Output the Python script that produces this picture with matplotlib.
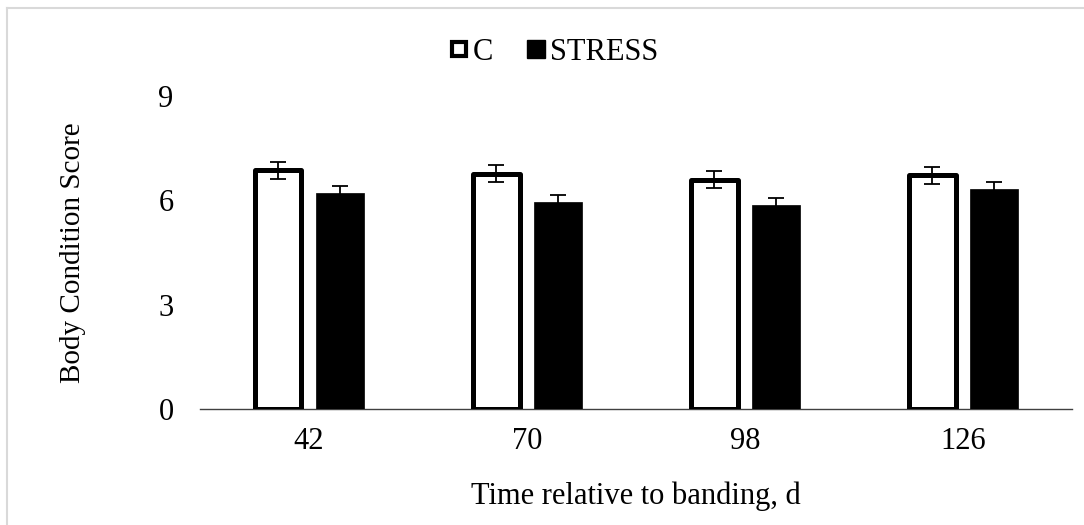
import numpy as np
import matplotlib.pyplot as plt
from matplotlib.lines import Line2D

plt.rcParams['font.family'] = ['Liberation Serif', 'DejaVu Serif']

# Body condition score by day relative to banding
days = ['42', '70', '98', '126']
c_mean = [6.86, 6.77, 6.60, 6.72]
c_err = [0.24, 0.24, 0.24, 0.24]
stress_mean = [6.21, 5.95, 5.88, 6.34]
stress_err = [0.20, 0.20, 0.18, 0.18]

fig = plt.figure(figsize=(10.84, 5.25), dpi=100)
ax = fig.add_axes([0.1845, 0.221, 0.8045, 0.596])

x = np.arange(len(days))
w = 0.215
off = 0.142

ax.bar(x - off, c_mean, w, facecolor='white', edgecolor='black',
       linewidth=3.6, joinstyle='round', zorder=2)
ax.bar(x + off, stress_mean, w + 0.005, facecolor='black', edgecolor='black',
       linewidth=0.5, zorder=2)
ax.errorbar(x - off, c_mean, yerr=c_err, fmt='none', ecolor='black',
            elinewidth=1.3, capsize=6, capthick=1.3, zorder=3)
ax.errorbar(x + off, stress_mean, yerr=stress_err, fmt='none', ecolor='black',
            elinewidth=1.3, capsize=6, capthick=1.3, zorder=3)

ax.set_xlim(-0.5, 3.5)
ax.set_ylim(0, 9)
ax.set_yticks([0, 3, 6, 9])
ax.set_xticks(x)
ax.set_xticklabels(days)
ax.tick_params(axis='both', length=0, labelsize=22)
ax.tick_params(axis='y', pad=19)
ax.tick_params(axis='x', pad=13)

for s in ['top', 'right', 'left']:
    ax.spines[s].set_visible(False)
ax.spines['bottom'].set_color('#404040')
ax.spines['bottom'].set_linewidth(1.0)
ax.spines['bottom'].set_zorder(1)

ax.set_ylabel('Body Condition Score', fontsize=21, labelpad=52)
ax.set_xlabel('Time relative to banding, d', fontsize=22, labelpad=18)

handles = [
    Line2D([], [], marker='s', linestyle='none', markersize=10,
           markerfacecolor='white', markeredgecolor='black', markeredgewidth=3),
    Line2D([], [], marker='s', linestyle='none', markersize=13,
           markerfacecolor='black', markeredgecolor='black'),
]
fig.legend(handles, ['C', 'STRESS'], loc='center', bbox_to_anchor=(0.51, 0.90),
           ncol=2, frameon=False, fontsize=22, handlelength=0.8,
           handletextpad=0.05, columnspacing=1.0)

# light chart-area border
fig.add_artist(Line2D([7 / 1084, 1], [1 - 8 / 525, 1 - 8 / 525],
                      transform=fig.transFigure, color='#d9d9d9', lw=1.5))
fig.add_artist(Line2D([7 / 1084, 7 / 1084], [0, 1 - 8 / 525],
                      transform=fig.transFigure, color='#d9d9d9', lw=1.5))

fig.savefig('out.png', dpi=100)
